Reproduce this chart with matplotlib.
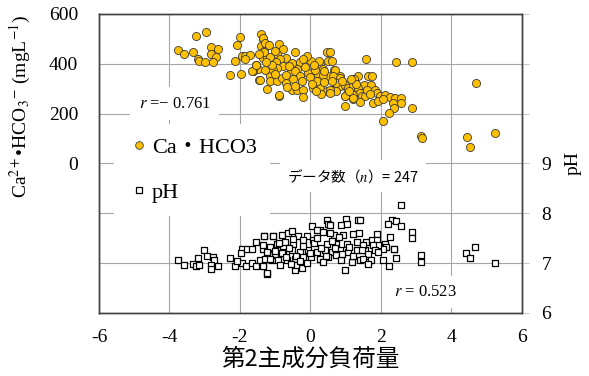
import numpy as np
import matplotlib.pyplot as plt
from matplotlib.lines import Line2D

plt.rcParams['font.family'] = ['Liberation Serif', 'Noto Sans CJK JP']
plt.rcParams['mathtext.fontset'] = 'stix'
plt.rcParams['axes.unicode_minus'] = False

# 第2主成分負荷量 と Ca・HCO3 (mg/L)
ca_x = [-3.75, -3.59, -3.26, -2.96, -3.33, -3.18, -3.15, -3.00, -2.83, -2.61, -2.83, -2.68, -2.76,
        -2.01, -2.09, -2.14, -2.28, -1.96, -1.95, -1.85, -1.70, -1.86,
        -1.40, -1.35, -1.40, -1.20, -1.32, -1.35, -1.23, -1.55, -1.64, -1.45, -1.15, -1.48,
        -1.34, -1.29, -1.18, -1.31, -0.89, -0.79, -0.94, -0.44, -0.70, -0.87, -0.98, -1.15,
        0.46, -0.11, 0.03, 0.51, 0.27, 0.35, 0.68, 0.84, 0.51, 0.74, 0.18, -0.06, -0.30, -0.39,
        -0.58, -0.53, -0.77, -0.94, -1.06, -1.29, -1.53, -1.62, -1.43, -1.15, -0.96, -0.82, -0.68,
        -0.53, -0.39, -0.20, -0.20, 0.08, 0.27, 0.46, 0.65, 0.84, 1.03, 0.99, -0.88,
        0.55, 0.60, 0.70, 0.65, 0.84, 0.74, 0.98, 1.07, 1.21, 1.36, 1.64, 1.76, 1.24, 1.53, 1.71,
        1.36, 1.40, 1.21, 0.98, 0.74, 0.55, 1.21, 1.45, 1.55, 1.83, 1.90, 1.97, 2.11, 2.26, 2.40,
        2.57, 1.78, 1.92, 2.07, 2.35, 2.57, 1.20, 1.40, 0.98, 0.55,
        2.37, 2.22, 2.05, 2.87, 1.57, 2.44, 2.87, -1.65, -1.53, -1.24, -0.88,
        -0.60, -0.45, -0.30, -0.15, 0.00, 0.12, 0.20, 0.35, -0.70, -0.25, 0.05, 0.40, -1.00, -0.50,
        0.25, -0.10, 0.10, 0.60, 0.30, -0.45, -0.65, 0.15, -1.10, -1.25, -1.45, -1.00, -0.20, 0.40,
        0.90, 1.10, 1.30, 1.60, 1.70, 1.15,
        3.15, 3.16, 4.43, 4.53, 5.23, 4.69]
ca_val = [456, 439, 512, 527, 449, 420, 412, 408, 467, 459, 439, 427, 408,
          507, 475, 409, 356, 360, 432, 432, 435, 419,
          520, 500, 472, 476, 452, 423, 423, 396, 369, 336, 349, 379,
          503, 483, 476, 449, 480, 459, 440, 449, 423, 419, 405, 427,
          447, 409, 409, 409, 393, 379, 376, 349, 349, 323, 363, 363, 405, 379,
          363, 403, 389, 383, 376, 376, 396, 369, 336, 329, 329, 343, 323,
          296, 296, 296, 267, 303, 303, 289, 296, 309, 303, 272, 272,
          449, 409, 376, 352, 343, 323, 316, 303, 309, 349, 352, 352, 339, 316, 316,
          303, 283, 276, 269, 289, 296, 259, 269, 272, 296, 283, 269, 276, 267, 263,
          263, 243, 252, 259, 243, 243, 263, 245, 232, 283,
          223, 204, 169, 221, 419, 405, 405, 369, 393, 299, 276,
          390, 370, 350, 385, 345, 375, 330, 355, 355, 330, 320, 325, 360, 340,
          410, 430, 395, 330, 280, 310, 305, 290, 395, 405, 440, 450, 420, 370,
          330, 290, 320, 295, 280, 340,
          109, 103, 104, 67, 121, 321]

# 第2主成分負荷量 と pH
ph_x = [-3.75, -3.59, -3.32, -3.26, -3.15, -3.18, -3.01, -2.94, -2.77, -2.74, -2.83, -2.83, -2.62,
        -2.28, -2.14, -1.95, -1.97, -1.79, -1.67, -1.55, -1.95, -1.83, -1.67, -1.53, -1.32, -1.34,
        -1.20, -1.06, -1.43, -1.29, -1.23, -1.10, -1.34, -0.96, -1.01, -2.09,
        -1.32, -1.06, -0.82, -0.63, -0.52, 0.05, 0.46, 0.51, 0.55, 0.27, 0.18, 0.36, 1.01, 1.36,
        0.88, 1.04, 0.67, 0.93, 1.21, 1.38, -0.11, -0.35, -0.20, 0.08, -1.34, -1.15, -0.96, -0.72,
        -0.49, 0.46, 0.74, 1.03, 1.31, 1.59, -1.24, -1.01, -0.77, -0.53, -0.30, -0.06, 0.18, 0.41,
        0.60, 0.84, 1.07, 1.31, 1.55, -1.15, -0.91, -0.67, -0.44, -0.20, 0.03, 0.27, 0.51, 0.74,
        0.88, 1.17, 1.40, 1.64, -1.23, -0.44, -0.25, -0.41, -0.87, -1.34, 0.98,
        1.40, 1.88, 2.26, 1.74, 1.88, 2.11, 2.14, 2.07, 1.93, 1.78, 2.37, 1.50, 1.45, 1.83, 1.93,
        1.64, 1.48, 1.72, 2.05, 1.64, 2.23, 2.44,
        -0.80, -0.60, -0.40, -0.20, 0.00, 0.10, 0.30, 0.45, 0.60, 0.70, 0.90, 1.10, -1.00, -0.50,
        0.20, -0.30, 0.35, -0.70, -0.90, 0.55, 0.80, 1.20, -0.10, -0.55,
        2.87, 2.87, 2.58, 2.32, 2.44, 2.19, 2.56, 2.36, 3.14, 3.14,
        4.42, 4.68, 4.53, 5.23]
ph_val = [7.07, 6.96, 6.98, 6.93, 6.97, 7.11, 7.27, 7.14, 7.13, 7.06, 6.97, 6.88, 6.93,
          7.11, 6.95, 7.29, 7.21, 7.29, 7.29, 7.43, 7.01, 6.93, 7.01, 6.94, 7.54, 7.29,
          7.29, 7.54, 7.06, 7.08, 6.77, 7.06, 6.93, 7.29, 7.17, 7.04,
          7.55, 7.55, 7.57, 7.61, 7.64, 7.75, 7.86, 7.79, 7.76, 7.66, 7.67, 7.63, 7.88, 7.86,
          7.76, 7.78, 7.57, 7.57, 7.59, 7.61, 7.55, 7.55, 7.46, 7.46, 7.36, 7.33, 7.39, 7.43,
          7.39, 7.39, 7.39, 7.39, 7.43, 7.43, 7.23, 7.19, 7.23, 7.26, 7.23, 7.26, 7.23, 7.26,
          7.23, 7.26, 7.23, 7.26, 7.26, 7.09, 7.06, 7.07, 7.09, 7.13, 7.13, 7.09, 7.13, 7.16,
          7.06, 7.03, 7.06, 7.03, 6.79, 6.86, 6.89, 6.96, 6.96, 6.93, 6.85,
          7.86, 7.59, 7.53, 7.47, 7.47, 7.39, 7.33, 7.29, 7.36, 7.36, 7.29, 7.36, 7.27, 7.26, 7.23,
          7.19, 7.09, 7.07, 7.07, 6.98, 6.93, 7.11,
          7.20, 7.30, 7.15, 7.35, 7.20, 7.40, 7.30, 7.15, 7.45, 7.30, 7.18, 7.32, 7.25, 7.48,
          7.50, 7.05, 7.02, 7.12, 7.40, 7.60, 7.52, 7.15, 7.00, 6.98,
          7.63, 7.51, 8.17, 7.86, 7.84, 7.79, 7.75, 7.29, 7.17, 7.03,
          7.21, 7.33, 7.10, 7.00]

x_ticks = [-6, -4, -2, 0, 2, 4, 6]
ca_ticks = [-600, -400, -200, 0, 200, 400, 600]
ca_labels = ['', '', '', '0', '200', '400', '600']
ph_ticks = [6, 7, 8, 9, 10, 11, 12]
ph_labels = ['6', '7', '8', '9', '', '', '']

fig = plt.figure(figsize=(5.89, 3.76), dpi=100)
ax = fig.add_axes([0.168, 0.168, 0.718, 0.795])
ax2 = ax.twinx()

grid_c = '#a6a6a6'
ax.set_xlim(-6, 6)
ax.set_ylim(-600, 600)
ax2.set_ylim(6, 12)
ax.set_xticks(x_ticks)
ax.set_xticklabels([str(t) for t in x_ticks], fontsize=14)
ax.set_yticks(ca_ticks)
ax.set_yticklabels(ca_labels, fontsize=14)
ax2.set_yticks(ph_ticks)
ax2.set_yticklabels(ph_labels, fontsize=14)
ax.grid(True, color=grid_c, linewidth=0.8, zorder=0)
ax.set_axisbelow(True)
ax.tick_params(axis='y', length=0, pad=15)
ax.tick_params(axis='x', length=0, pad=12)
ax2.tick_params(axis='y', length=5, color='#c8c8c8', width=0.8, pad=9)
for a in (ax, ax2):
    for s in a.spines.values():
        s.set_color('#404040')
        s.set_linewidth(1.0)

ax.scatter(ca_x, ca_val, s=34, facecolor='#ffc000', edgecolor='#3a3a3a', linewidth=0.6, zorder=3)
ax2.scatter(ph_x, ph_val, s=24, marker='s', facecolor='white', edgecolor='black', linewidth=0.9, zorder=3)

ax.set_xlabel('第2主成分負荷量', family=['Noto Sans CJK JP'], fontsize=17, labelpad=1)
ax.set_ylabel('Ca$^{2+}$•HCO$_3$$^{-}$ (mgL$^{-1}$)', fontsize=14)
ax.yaxis.set_label_coords(-0.155, 0.69)
ax2.set_ylabel('pH', fontsize=14, rotation=90)
ax2.yaxis.set_label_coords(1.1, 0.5)

box = dict(facecolor='white', edgecolor='none', pad=6)
ax2.text(-3.85, 10.2, '$r$ =− 0.761', fontsize=12, ha='center', va='center', bbox=box, zorder=5)
ax2.text(3.25, 6.42, '$r$ = 0.523', fontsize=12, ha='center', va='center', bbox=box, zorder=5)
ax2.text(1.2, 8.75, 'データ数（$n$）= 247', family=['Noto Sans CJK JP'], fontsize=10.5,
         ha='center', va='center', bbox=dict(facecolor='white', edgecolor='none', pad=5), zorder=5)

handles = [Line2D([], [], linestyle='none', marker='o', markersize=5.5, markerfacecolor='#ffc000',
                  markeredgecolor='#3a3a3a', markeredgewidth=0.6),
           Line2D([], [], linestyle='none', marker='s', markersize=4.5, markerfacecolor='white',
                  markeredgecolor='black', markeredgewidth=0.9)]
leg = ax2.legend(handles, ['Ca・HCO3', 'pH'], loc='upper left', bbox_to_anchor=(0.01, 0.67),
                 frameon=True, fancybox=False, edgecolor='none', framealpha=1,
                 prop={'family': ['Liberation Serif', 'Noto Sans CJK JP'], 'size': 16},
                 handletextpad=0.1, labelspacing=1.12, borderpad=0.6, handlelength=1.0)
leg.set_zorder(6)

fig.savefig('out.png', dpi=100)
